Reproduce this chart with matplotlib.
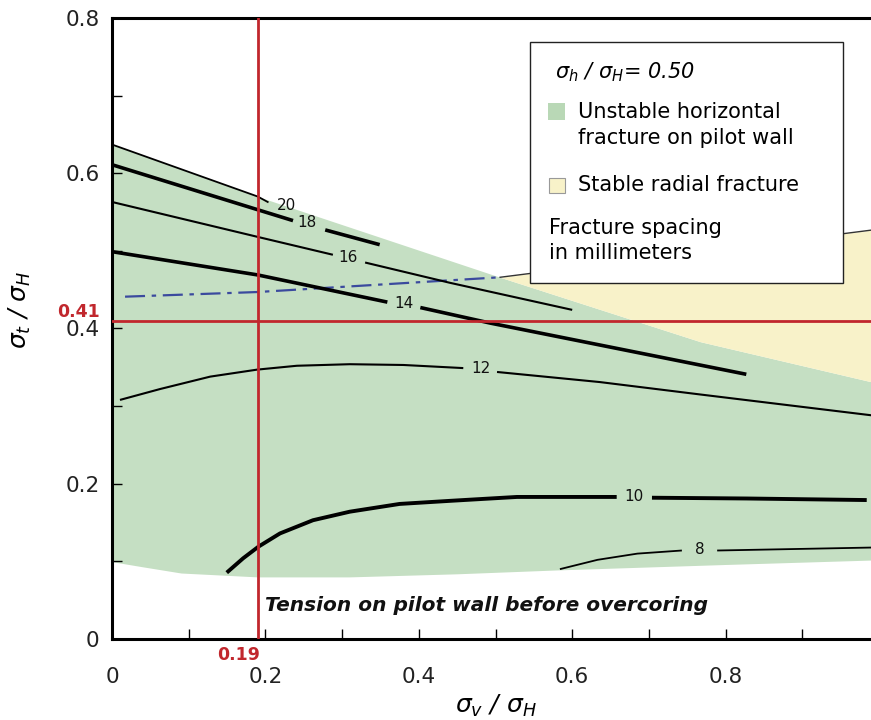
import numpy as np
import matplotlib
matplotlib.use("Agg")
import matplotlib.pyplot as plt
from matplotlib.patches import Rectangle

# region boundaries
green_top_x = [0.0, 0.19, 0.506, 0.767, 1.0]
green_top_y = [0.637, 0.570, 0.466, 0.383, 0.329]
green_bot_x = [0.0, 0.04, 0.09, 0.19, 0.309, 0.45, 0.581, 0.8, 1.0]
green_bot_y = [0.0996, 0.093, 0.085, 0.080, 0.080, 0.084, 0.089, 0.096, 0.102]
yellow_top_x = [0.506, 1.0]
yellow_top_y = [0.466, 0.528]
yellow_bot_x = [0.506, 0.767, 1.0]
yellow_bot_y = [0.466, 0.383, 0.329]
blue_x = [0.017, 0.19, 0.506]
blue_y = [0.441, 0.447, 0.466]

# contours of fracture spacing (mm): two pieces each, split at the label
c20_x = [0.0, 0.19, 0.203]
c20_y = [0.637, 0.570, 0.563]
c18_x = [[0.0, 0.19, 0.236], [0.278, 0.349]]
c18_y = [[0.611, 0.553, 0.539], [0.527, 0.508]]
c16_x = [[0.0, 0.19, 0.288], [0.33, 0.44, 0.60]]
c16_y = [[0.563, 0.518, 0.495], [0.485, 0.459, 0.424]]
c14_x = [[0.0, 0.19, 0.359], [0.402, 0.493, 0.827]]
c14_y = [[0.499, 0.469, 0.434], [0.427, 0.407, 0.341]]
c12_x = [[0.0104, 0.0626, 0.128, 0.189, 0.241, 0.310, 0.380, 0.458],
         [0.502, 0.636, 0.767, 1.0]]
c12_y = [[0.308, 0.322, 0.338, 0.347, 0.352, 0.354, 0.353, 0.349],
         [0.344, 0.331, 0.315, 0.287]]
c10_x = [[0.1496, 0.171, 0.191, 0.219, 0.262, 0.310, 0.375, 0.441, 0.528, 0.658],
         [0.704, 0.828, 0.984]]
c10_y = [[0.0855, 0.104, 0.119, 0.136, 0.153, 0.164, 0.174, 0.178, 0.183, 0.183],
         [0.182, 0.181, 0.179]]
c8_x = [[0.584, 0.633, 0.685, 0.743], [0.789, 1.0]]
c8_y = [[0.090, 0.102, 0.110, 0.114], [0.114, 0.118]]
contour_labels = ["20", "18", "16", "14", "12", "10", "8"]
label_x = [0.228, 0.254, 0.308, 0.381, 0.481, 0.681, 0.766]
label_y = [0.559, 0.536, 0.492, 0.432, 0.349, 0.183, 0.115]

x_ticks = np.round(np.arange(0, 1.01, 0.1), 1)
y_ticks = np.round(np.arange(0, 0.81, 0.1), 1)
x_ticklabels = ["0", "", "0.2", "", "0.4", "", "0.6", "", "0.8", "", "1"]
y_ticklabels = ["0", "", "0.2", "", "0.4", "", "0.6", "", "0.8"]

sv_mark = 0.19
st_mark = 0.41

green = "#c5dfc3"
yellow = "#f8f2c9"
red = "#c1272d"

plt.rcParams["font.family"] = "DejaVu Sans"
fig = plt.figure(figsize=(8.71, 7.2), dpi=100)
ax = fig.add_axes([112 / 871, 81 / 720, 767 / 871, 621 / 720])

# fills
xx = np.linspace(0, 1, 400)
gt = np.interp(xx, green_top_x, green_top_y)
gb = np.interp(xx, green_bot_x, green_bot_y)
ax.fill_between(xx, gb, gt, color=green, lw=0, zorder=1)
xy = np.linspace(yellow_top_x[0], 1, 200)
ax.fill_between(xy, np.interp(xy, yellow_bot_x, yellow_bot_y),
                np.interp(xy, yellow_top_x, yellow_top_y), color=yellow, lw=0, zorder=1)
ax.plot(yellow_top_x, yellow_top_y, color="#333333", lw=1.0, zorder=2)
ax.plot(blue_x, blue_y, color="#3b4a9e", lw=1.6, ls=(0, (9, 3, 2, 3)), zorder=3)

# contours
ax.plot(c20_x, c20_y, color="black", lw=1.3, zorder=3)
for cx, cy, w in [(c18_x, c18_y, 2.6), (c16_x, c16_y, 1.5), (c14_x, c14_y, 2.6),
                  (c12_x, c12_y, 1.5), (c10_x, c10_y, 2.8), (c8_x, c8_y, 1.3)]:
    for px, py in zip(cx, cy):
        ax.plot(px, py, color="black", lw=w, solid_capstyle="butt",
                solid_joinstyle="round", zorder=3)
for t, lx, ly in zip(contour_labels, label_x, label_y):
    ax.text(lx, ly, t, fontsize=11, ha="center", va="center", color="#111111", zorder=4)

# reference lines
ax.axvline(sv_mark, color=red, lw=2.0, zorder=4)
ax.axhline(st_mark, color=red, lw=2.0, zorder=4)
ax.text(-0.016, 0.421, "0.41", color=red, fontsize=12.5, fontweight="bold",
        ha="right", va="center", transform=ax.get_yaxis_transform())
ax.text(sv_mark + 0.003, -0.026, "0.19", color=red, fontsize=12.5, fontweight="bold",
        ha="right", va="center", transform=ax.get_xaxis_transform())

ax.text(0.2, 0.043, "Tension on pilot wall before overcoring", fontsize=14.5,
        fontweight="bold", fontstyle="italic", ha="left", va="center", color="#111111")

# legend box
ax.add_patch(Rectangle((0.545, 0.573), 0.408, 0.388, transform=ax.transAxes,
                       facecolor="white", edgecolor="#222222", lw=1.0, zorder=6))
ax.text(0.578, 0.913, r"$\sigma_h$ / $\sigma_H$= 0.50", transform=ax.transAxes,
        fontsize=15, fontstyle="italic", va="center", zorder=7)
ax.add_patch(Rectangle((0.568, 0.836), 0.022, 0.027, transform=ax.transAxes,
                       facecolor="#b9d8b6", edgecolor="none", zorder=7))
ax.text(0.608, 0.849, "Unstable horizontal", transform=ax.transAxes,
        fontsize=15, va="center", zorder=7)
ax.text(0.608, 0.807, "fracture on pilot wall", transform=ax.transAxes,
        fontsize=15, va="center", zorder=7)
ax.add_patch(Rectangle((0.570, 0.718), 0.020, 0.024, transform=ax.transAxes,
                       facecolor=yellow, edgecolor="#999999", lw=0.8, zorder=7))
ax.text(0.608, 0.731, "Stable radial fracture", transform=ax.transAxes,
        fontsize=15, va="center", zorder=7)
ax.text(0.570, 0.662, "Fracture spacing", transform=ax.transAxes,
        fontsize=15, va="center", zorder=7)
ax.text(0.570, 0.622, "in millimeters", transform=ax.transAxes,
        fontsize=15, va="center", zorder=7)

# axes styling
ax.set_xlim(0, 1)
ax.set_ylim(0, 0.8)
ax.set_xticks(x_ticks)
ax.set_xticklabels(x_ticklabels)
ax.set_yticks(y_ticks)
ax.set_yticklabels(y_ticklabels)
ax.tick_params(axis="both", direction="in", length=7, width=1, labelsize=15.5,
               labelcolor="#222222")
ax.tick_params(axis="x", pad=20)
ax.tick_params(axis="y", pad=9)
for s in ["left", "bottom", "top"]:
    ax.spines[s].set_linewidth(2.2)
ax.spines["right"].set_visible(False)

ax.set_xlabel(r"$\sigma_v$ / $\sigma_H$", fontsize=18, fontstyle="italic", labelpad=4)
ax.set_ylabel(r"$\sigma_t$ / $\sigma_H$", fontsize=18, fontstyle="italic")
ax.yaxis.set_label_coords(-0.103, 0.53)

plt.savefig("out.png", dpi=100)
